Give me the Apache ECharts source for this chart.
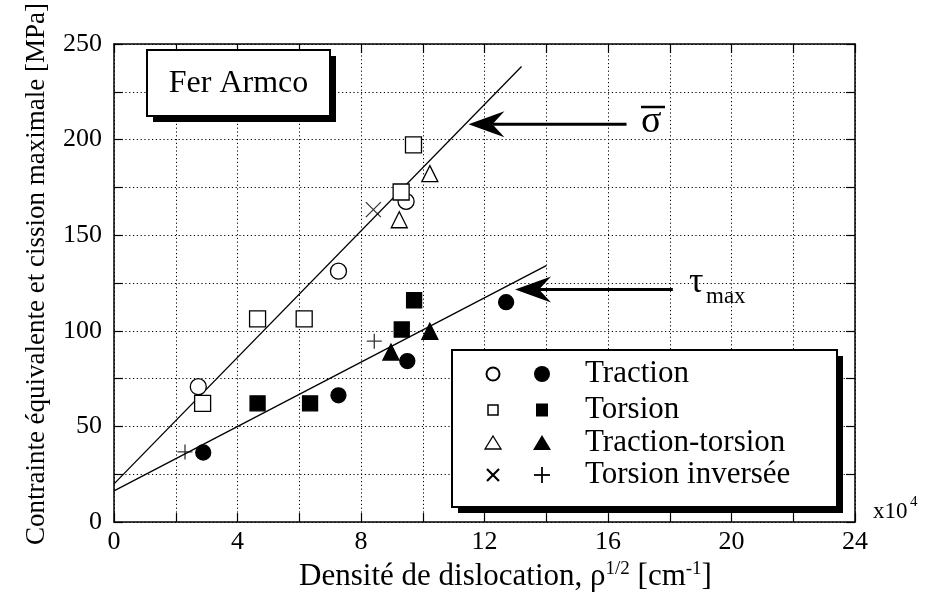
<!DOCTYPE html>
<html>
<head>
<meta charset="utf-8">
<script src="https://cdn.jsdelivr.net/npm/echarts@6/dist/echarts.min.js"></script>
<style>html,body{margin:0;padding:0;background:#fff}#c{width:926px;height:597px}</style>
</head>
<body>
<div id="c"></div>
<script>
// ---- data ----
var xTickLabels = [0, 4, 8, 12, 16, 20, 24];
var yTickLabels = [0, 50, 100, 150, 200, 250];
// open symbols: equivalent stress (sigma bar)
var tractionOpen = [[2.73, 70.8], [7.27, 131.2], [9.46, 167.7]];
var torsionOpen = [[2.87, 62.1], [4.65, 106.3], [6.16, 106.3], [9.30, 172.6], [9.70, 197.3]];
var tracTorsOpen = [[9.24, 158.1], [10.23, 182.2]];
var torsInvOpen = [[8.40, 163.4]];
// filled symbols: maximum shear (tau max)
var tractionFilled = [[2.89, 36.4], [7.27, 66.3], [9.50, 84.2], [12.70, 115.0]];
var torsionFilled = [[4.65, 62.1], [6.35, 62.1], [9.32, 100.7], [9.72, 116.0]];
var tracTorsFilled = [[8.97, 88.9], [10.23, 99.8]];
var torsInvFilled = [[2.30, 36.7], [8.43, 94.6]];
// fitted lines
var sigmaLine = [[0, 20.0], [13.2, 238.2]];
var tauLine = [[0, 16.3], [14.0, 134.1]];
// annotation arrows [tail, tip]
var sigmaArrow = [[16.6, 208.1], [11.48, 208.1]];
var tauArrow = [[18.1, 121.6], [12.99, 121.6]];
var legendNames = ['Traction', 'Torsion', 'Traction-torsion', 'Torsion inversée'];

var FONT = '"Liberation Serif", "Times New Roman", serif';
var crossPath = 'path://M0,0L10,10M10,0L0,10';
var plusPath = 'path://M5,0L5,10M0,5L10,5';

function scatter(name, data, symbol, size, filled, lw) {
  return {
    name: name, type: 'scatter', data: data, symbol: symbol, symbolSize: size,
    itemStyle: { color: filled ? '#000' : '#fff', borderColor: '#000', borderWidth: lw || 1.3, opacity: 1 },
    z: 5
  };
}
function lineStrokeScatter(name, data, symbol, size) {
  return {
    name: name, type: 'scatter', data: data, symbol: symbol, symbolSize: size,
    itemStyle: { color: 'none', borderColor: '#000', borderWidth: 1.3 }, z: 5
  };
}

var chart = echarts.init(document.getElementById('c'), null, { renderer: 'canvas' });

var axisLineStyle = { color: '#000', width: 1.5 };
var gridDash = { color: '#000', width: 1, type: [1.2, 2.6] };
var tickStyle = { show: true, inside: true, length: 9, lineStyle: { color: '#000', width: 1.2 } };

var option = {
  backgroundColor: '#fff',
  animation: false,
  grid: { left: 114, right: 71, top: 44, bottom: 74, containLabel: false },
  xAxis: [{
    type: 'value', min: 0, max: 24, interval: 2,
    axisLine: { show: true, onZero: false, lineStyle: axisLineStyle },
    axisTick: tickStyle,
    splitLine: { show: true, lineStyle: gridDash },
    axisLabel: {
      color: '#000', fontFamily: FONT, fontSize: 26, margin: 7,
      formatter: function (v) { return xTickLabels.indexOf(v) >= 0 ? String(v) : ''; }
    },
    name: 'Densité de dislocation, ρ{sup|1/2} [cm{sup|-1}]',
    nameLocation: 'middle', nameGap: 35,
    nameTextStyle: {
      color: '#000', fontFamily: FONT, fontSize: 31, padding: [0, 0, 0, 42],
      rich: { sup: { fontFamily: FONT, fontSize: 19, verticalAlign: 'top', padding: [0, 0, 14, 0], color: '#000' } }
    }
  }, {
    type: 'value', min: 0, max: 24, interval: 2, position: 'top',
    axisLine: { show: true, onZero: false, lineStyle: axisLineStyle },
    axisTick: tickStyle,
    axisLabel: { show: false }, splitLine: { show: false }
  }],
  yAxis: [{
    type: 'value', min: 0, max: 250, interval: 25,
    axisLine: { show: true, onZero: false, lineStyle: axisLineStyle },
    axisTick: tickStyle,
    splitLine: { show: true, lineStyle: gridDash },
    axisLabel: {
      color: '#000', fontFamily: FONT, fontSize: 26, margin: 12,
      formatter: function (v) { return yTickLabels.indexOf(v) >= 0 ? String(v) : ''; }
    },
    name: 'Contrainte équivalente et cission maximale [MPa]',
    nameLocation: 'middle', nameGap: 64,
    nameTextStyle: { color: '#000', fontFamily: FONT, fontSize: 27, padding: [0, 0, 0, 18] }
  }, {
    type: 'value', min: 0, max: 250, interval: 25, position: 'right',
    axisLine: { show: true, onZero: false, lineStyle: axisLineStyle },
    axisTick: tickStyle,
    axisLabel: { show: false }, splitLine: { show: false }
  }],
  series: [
    { name: 'sigma', type: 'line', data: sigmaLine, showSymbol: false, symbol: 'none', lineStyle: { color: '#000', width: 1.3 }, z: 3 },
    { name: 'tau', type: 'line', data: tauLine, showSymbol: false, symbol: 'none', lineStyle: { color: '#000', width: 1.3 }, z: 3 },
    scatter('Traction', tractionOpen, 'circle', 16, false),
    scatter('Torsion', torsionOpen, 'rect', 16, false),
    scatter('Traction-torsion', tracTorsOpen, 'triangle', 16, false),
    lineStrokeScatter('Torsion inversée', torsInvOpen, crossPath, 15),
    scatter('Traction ', tractionFilled, 'circle', 15, true),
    scatter('Torsion ', torsionFilled, 'rect', 15, true),
    scatter('Traction-torsion ', tracTorsFilled, 'triangle', 16, true),
    lineStrokeScatter('Torsion inversée ', torsInvFilled, plusPath, 15)
  ]
};
chart.setOption(option);

var g = [];
function box(x, y, w, h) {
  g.push({ type: 'rect', shape: { x: x + 6, y: y + 6, width: w, height: h }, style: { fill: '#000' }, z: 100 });
  g.push({ type: 'rect', shape: { x: x, y: y, width: w, height: h }, style: { fill: '#fff', stroke: '#000', lineWidth: 2 }, z: 101 });
}
function txt(text, x, y, size, align) {
  g.push({ type: 'text', z: 110, style: { text: text, x: x, y: y, font: size + 'px ' + FONT, fill: '#000', textAlign: align || 'left', textVerticalAlign: 'middle', align: align || 'left', verticalAlign: 'middle' } });
}
// "Fer Armco" box
box(147, 50, 183, 66);
txt('Fer Armco', 238.5, 84, 32, 'center');
// legend box
box(452, 350, 385, 157);
var rowsY = [374, 410, 443, 475];
var cO = 493, cF = 542;
g.push({ type: 'circle', z: 110, shape: { cx: cO, cy: rowsY[0], r: 6.5 }, style: { fill: '#fff', stroke: '#000', lineWidth: 2 } });
g.push({ type: 'circle', z: 110, shape: { cx: cF, cy: rowsY[0], r: 8 }, style: { fill: '#000' } });
g.push({ type: 'rect', z: 110, shape: { x: cO - 5, y: rowsY[1] - 5, width: 10, height: 10 }, style: { fill: '#fff', stroke: '#000', lineWidth: 1.5 } });
g.push({ type: 'rect', z: 110, shape: { x: cF - 6, y: rowsY[1] - 6.5, width: 12, height: 13 }, style: { fill: '#000' } });
g.push({ type: 'polygon', z: 110, shape: { points: [[cO, rowsY[2] - 7], [cO + 8, rowsY[2] + 6], [cO - 8, rowsY[2] + 6]] }, style: { fill: '#fff', stroke: '#000', lineWidth: 1.3 } });
g.push({ type: 'polygon', z: 110, shape: { points: [[cF, rowsY[2] - 8], [cF + 9, rowsY[2] + 7], [cF - 9, rowsY[2] + 7]] }, style: { fill: '#000' } });
g.push({ type: 'line', z: 110, shape: { x1: cO - 6, y1: rowsY[3] - 6, x2: cO + 6, y2: rowsY[3] + 6 }, style: { stroke: '#000', lineWidth: 2.2 } });
g.push({ type: 'line', z: 110, shape: { x1: cO + 6, y1: rowsY[3] - 6, x2: cO - 6, y2: rowsY[3] + 6 }, style: { stroke: '#000', lineWidth: 2.2 } });
g.push({ type: 'line', z: 110, shape: { x1: cF - 8, y1: rowsY[3], x2: cF + 8, y2: rowsY[3] }, style: { stroke: '#000', lineWidth: 1.8 } });
g.push({ type: 'line', z: 110, shape: { x1: cF, y1: rowsY[3] - 8, x2: cF, y2: rowsY[3] + 8 }, style: { stroke: '#000', lineWidth: 1.8 } });
for (var i = 0; i < legendNames.length; i++) txt(legendNames[i], 585, rowsY[i], 31, 'left');

// annotation arrows, positioned through the chart's own scales
function arrow(pts) {
  var tail = chart.convertToPixel({ xAxisIndex: 0, yAxisIndex: 0 }, pts[0]);
  var tip = chart.convertToPixel({ xAxisIndex: 0, yAxisIndex: 0 }, pts[1]);
  var tx = tip[0], ty = tip[1];
  g.push({ type: 'line', z: 108, shape: { x1: tail[0], y1: tail[1], x2: tx + 24, y2: ty }, style: { stroke: '#000', lineWidth: 3 } });
  g.push({ type: 'polygon', z: 108, shape: { points: [[tx, ty], [tx + 36, ty - 13], [tx + 24, ty], [tx + 36, ty + 13]] }, style: { fill: '#000' } });
}
arrow(sigmaArrow);
arrow(tauArrow);

// sigma-bar label
txt('σ', 641, 122, 38, 'left');
g.push({ type: 'line', z: 110, shape: { x1: 641, y1: 107, x2: 665, y2: 107 }, style: { stroke: '#000', lineWidth: 2.5 } });
// tau_max label
txt('τ', 689, 283, 36, 'left');
txt('max', 706, 297, 23, 'left');
// x10^4 multiplier
txt('x10', 873, 512, 23, 'left');
txt('4', 910, 502, 15, 'left');

chart.setOption({ graphic: g });
</script>
</body>
</html>
